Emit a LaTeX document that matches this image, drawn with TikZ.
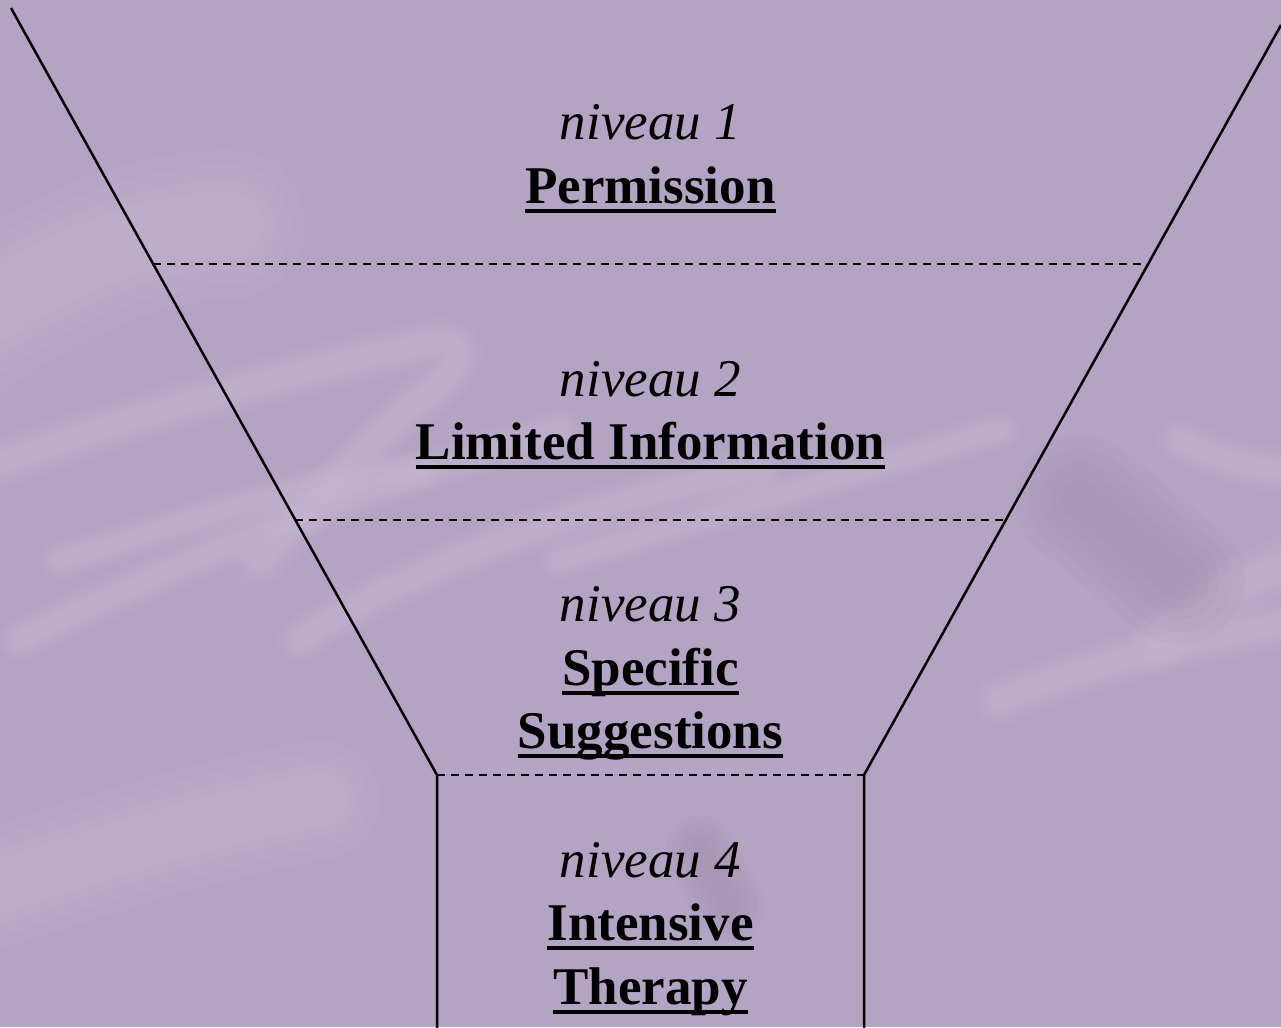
\documentclass[tikz,border=0pt]{standalone}
\usepackage{fontspec}
\setmainfont{Liberation Serif}

% bold title with a heavy rule underneath
\newcommand\heading[1]{\setbox0\hbox{\bfseries #1}\rlap{\vrule height -5.5pt depth 10pt width \wd0}\box0}

\definecolor{bgbase}{RGB}{180,164,195}
\definecolor{bglight}{RGB}{210,196,224}
\definecolor{bgdark}{RGB}{150,132,162}

\tikzset{
  lvl/.style={font=\fontsize{53}{63}\selectfont\itshape, anchor=base, inner sep=0pt},
  ttl/.style={font=\fontsize{53}{63}\selectfont, anchor=base, inner sep=0pt},
  funnel/.style={line width=2.5pt, line join=miter},
  divider/.style={line width=2.4pt, dash pattern=on 8pt off 6pt},
  soft/.style={line cap=round, line join=round, opacity=0.08},
}

% a soft brush stroke: several passes of decreasing width
\newcommand\brush[3]{%
  \foreach \k in {1,0.8,0.6,0.45,0.3}{%
    \draw[soft, draw=#1, line width=\k*#2pt] #3;}}

\begin{document}
\begin{tikzpicture}[x=1pt, y=-1pt]
  % background
  \fill[bgbase] (0,0) rectangle (1281,1027);
  \useasboundingbox (0,0) rectangle (1281,1027);
  \begin{scope}
    \clip (0,0) rectangle (1281,1027);
    % light brush strokes
    \brush{bglight}{150}{(-40,330) .. controls (60,260) and (150,225) .. (230,225)}
    \brush{bglight}{50}{(-20,470) .. controls (120,420) and (260,380) .. (420,345) .. controls (470,335) and (470,360) .. (420,400) .. controls (360,450) and (300,520) .. (260,560)}
    \brush{bglight}{44}{(20,640) .. controls (180,560) and (380,480) .. (560,430)}
    \brush{bglight}{40}{(60,560) .. controls (200,520) and (300,480) .. (420,470)}
    \brush{bglight}{46}{(300,640) .. controls (420,560) and (600,500) .. (760,470)}
    \brush{bglight}{40}{(560,560) .. controls (700,520) and (860,470) .. (1000,430)}
    \brush{bglight}{50}{(1000,700) .. controls (1100,660) and (1200,640) .. (1300,620)}
    \brush{bglight}{46}{(1180,440) .. controls (1220,460) and (1250,470) .. (1300,470)}
    \brush{bglight}{60}{(1160,640) .. controls (1200,600) and (1250,580) .. (1300,560)}
    \brush{bglight}{120}{(-40,900) .. controls (80,860) and (200,820) .. (320,800)}
    % darker patches
    \brush{bgdark}{130}{(1080,500) .. controls (1110,520) and (1150,560) .. (1180,580)}
    \brush{bgdark}{70}{(700,850) .. controls (710,870) and (720,890) .. (730,905)}
  \end{scope}

  % funnel outline
  \coordinate (L0) at (11,8);
  \coordinate (L1) at (153.2,264);
  \coordinate (L2) at (295.4,520);
  \coordinate (L3) at (437,775);
  \coordinate (L4) at (437,1030);
  \coordinate (R0) at (1281,25);
  \coordinate (R1) at (1148.1,264);
  \coordinate (R2) at (1005.8,520);
  \coordinate (R3) at (864,775);
  \coordinate (R4) at (864,1030);

  \draw[funnel] (L0) -- (L3) -- (L4);
  \draw[funnel] (R0) -- (R3) -- (R4);
  \draw[divider] (L1) -- (R1);
  \draw[divider] (L2) -- (R2);
  \draw[divider] (L3) -- (R3);

  % level labels
  \node[lvl] (n1) at (650.5,140) {niveau 1};
  \node[ttl] (t1) at (650.5,203) {\heading{Permission}};

  \node[lvl] (n2) at (650.5,396) {niveau 2};
  \node[ttl] (t2) at (650.5,459) {\heading{Limited Information}};

  \node[lvl] (n3) at (650.5,621) {niveau 3};
  \node[ttl] (t3a) at (650.5,685) {\heading{Specific}};
  \node[ttl] (t3b) at (650.5,748) {\heading{Suggestions}};

  \node[lvl] (n4) at (650.5,877) {niveau 4};
  \node[ttl] (t4a) at (650.5,940) {\heading{Intensive}};
  \node[ttl] (t4b) at (650.5,1004) {\heading{Therapy}};
\end{tikzpicture}
\end{document}
